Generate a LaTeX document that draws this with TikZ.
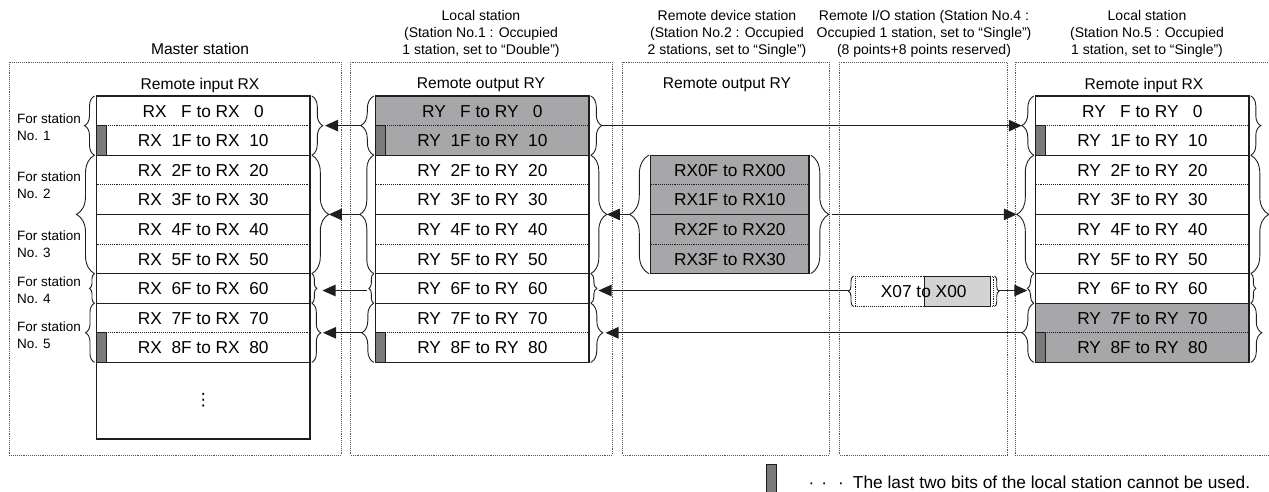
\documentclass[tikz,border=0pt]{standalone}
\usepackage{fontspec}
\setmainfont{Liberation Sans}
\newfontfamily\symfont{DejaVu Sans}
\usetikzlibrary{arrows.meta,decorations.pathreplacing,calc}
\definecolor{ink}{HTML}{1E1E1E}
\definecolor{dotln}{HTML}{555555}
\definecolor{regfill}{HTML}{A7A7AA}
\definecolor{bitfill}{HTML}{7A7A7C}
\definecolor{xfill}{HTML}{D3D3D3}
\newcommand{\regtext}[2]{\ifnum#2=0 #1\ \ \ F to #1\ \ \ 0\else#1\ \ #2F to #1\ \ #20\fi}

\begin{document}
\begin{tikzpicture}[x=1pt,y=-1pt,
    reg/.style={inner sep=0pt,text height=12.4pt,text depth=0pt,font=\fontsize{17.3}{20}\selectfont},
    ttl/.style={align=center,inner sep=0pt,font=\fontsize{14}{17}\selectfont},
    hdr/.style={inner sep=0pt,font=\fontsize{15.6}{17}\selectfont},
    stn/.style={align=left,anchor=west,inner sep=0pt,font=\fontsize{13.5}{17}\selectfont},
    pnl/.style={draw=dotln,line width=0.8pt,dash pattern=on 0.8pt off 1.1pt},
    box/.style={draw=ink,line width=1.3pt},
    sep/.style={draw=ink,line width=0.8pt,dash pattern=on 0.8pt off 1.1pt},
    bit/.style={fill=bitfill,draw=ink,line width=0.8pt},
    brc/.style={decorate,decoration={brace,amplitude=#1},draw=ink,line width=0.9pt},
    arr/.style={draw=ink,line width=1.1pt,-{Triangle[length=13pt,width=11.5pt]}}]
  \useasboundingbox (0,0) rectangle (1269,491);

  % dotted station panels
  \draw[pnl] (9,62) rectangle (341,455);
  \draw[pnl] (350.5,62) rectangle (612,455);
  \draw[pnl] (622.5,62) rectangle (829,455);
  \draw[pnl] (839.5,62) rectangle (1007,455);
  \draw[pnl] (1015,62) rectangle (1285,455);

  % titles
  \node[hdr] (tMaster) at (200,49) {Master station};
  \node[ttl] (tLocA) at (481,33.5) {Local station\\(Station No.1 : Occupied\\1 station, set to “Double")};
  \node[ttl] (tRdev) at (727,33.5) {Remote device station\\(Station No.2 : Occupied\\2 stations, set to “Single")};
  \node[ttl] (tRio) at (924,33.5) {Remote I/O station (Station No.4 :\\Occupied 1 station, set to “Single")\\(8 points+8 points reserved)};
  \node[ttl] (tLocB) at (1147,33.5) {Local station\\(Station No.5 : Occupied\\1 station, set to “Single")};

  \node[hdr] (hM) at (200,85) {Remote input RX};
  \node[hdr] (hA) at (481,85) {Remote output RY};
  \node[hdr] (hR) at (727,85) {Remote output RY};
  \node[hdr] (hB) at (1144,85) {Remote input RX};

  % gray rows
  \fill[regfill] (375.7,96) rectangle (589,155.2);
  \fill[regfill] (650.7,155.2) rectangle (809,273.6);
  \fill[regfill] (1035.7,303.2) rectangle (1249,362.4);

  % row dividers
  \foreach \bx/\ex in {96.5/310,375.7/589,1035.7/1249} {
    \foreach \yy in {125.6,184.8,244,332.8}
      \draw[sep] (\bx,\yy) -- (\ex,\yy);
    \foreach \yy in {155.2,214.4,273.6,303.2}
      \draw[box] (\bx,\yy) -- (\ex,\yy);
  }
  \draw[box] (96.5,362.4) -- (310,362.4);
  \draw[sep] (650.7,184.8) -- (809,184.8);
  \draw[sep] (650.7,244) -- (809,244);
  \draw[box] (650.7,214.4) -- (809,214.4);

  % unusable bits
  \foreach \bx in {96.5,375.7,1035.7} {
    \draw[bit] (\bx,125.6) rectangle ++(9.5,29.6);
    \draw[bit] (\bx,332.8) rectangle ++(9.5,29.6);
  }

  % register boxes
  \draw[box] (96.5,96) rectangle (310,439);
  \draw[box] (375.7,96) rectangle (589,362.4);
  \draw[box] (650.7,155.2) rectangle (809,273.6);
  \draw[box] (1035.7,96) rectangle (1249,362.4);

  \foreach \k in {0,...,8} {
    \node[reg] (m\k) at (203.25,{110.8+29.6*\k}) {\regtext{RX}{\k}};
    \node[reg] (a\k) at (482.35,{110.8+29.6*\k}) {\regtext{RY}{\k}};
    \node[reg] (b\k) at (1142.35,{110.8+29.6*\k}) {\regtext{RY}{\k}};
  }
  \foreach \k in {0,...,3}
    \node[reg] (r\k) at (729.85,{170+29.6*\k}) {RX\k F to RX\k0};
  \node[inner sep=0pt,font=\symfont\fontsize{17}{20}\selectfont] (mDots) at (203.25,400) {⋮};

  % remote I/O points
  \draw[sep] (855,276) rectangle (993,306.5);
  \draw[fill=xfill,draw=ink,line width=1pt] (924.3,276) rectangle (990.7,306.5);
  \node[reg] (xio) at (923.7,291.3) {X07 to X00};

  % station labels
  \node[stn] (sn1) at (17,127.5) {For station\\No. 1};
  \node[stn] (sn2) at (17,185.3) {For station\\No. 2};
  \node[stn] (sn3) at (17,244.5) {For station\\No. 3};
  \node[stn] (sn4) at (17,290) {For station\\No. 4};
  \node[stn] (sn5) at (17,335) {For station\\No. 5};

  % braces
  \draw[brc=10] (94.5,155.2) -- (94.5,96);
  \draw[brc=18] (94.5,273.6) -- (94.5,155.2);
  \draw[brc=5] (94.5,303.2) -- (94.5,273.6);
  \draw[brc=9] (94.5,362.4) -- (94.5,303.2);
  \draw[brc=11] (311.8,96) -- (311.8,155.2);
  \draw[brc=17] (311.8,155.2) -- (311.8,273.6);
  \draw[brc=5] (311.8,273.6) -- (311.8,303.2);
  \draw[brc=9] (311.8,303.2) -- (311.8,362.4);

  \draw[brc=13] (373.8,155.2) -- (373.8,96);
  \draw[brc=14] (373.8,273.6) -- (373.8,155.2);
  \draw[brc=5] (373.8,303.2) -- (373.8,273.6);
  \draw[brc=12] (373.8,362.4) -- (373.8,303.2);
  \draw[brc=11] (590.8,96) -- (590.8,155.2);
  \draw[brc=16] (590.8,155.2) -- (590.8,273.6);
  \draw[brc=6] (590.8,273.6) -- (590.8,303.2);
  \draw[brc=12] (590.8,303.2) -- (590.8,362.4);

  \draw[brc=19] (648.8,273.6) -- (648.8,155.2);
  \draw[brc=18] (810.8,155.2) -- (810.8,273.6);

  \draw[brc=5] (853.5,306.5) -- (853.5,276);
  \draw[brc=4.5] (994.5,276) -- (994.5,306.5);

  \draw[brc=12] (1033.8,155.2) -- (1033.8,96);
  \draw[brc=17] (1033.8,273.6) -- (1033.8,155.2);
  \draw[brc=6.5] (1033.8,303.2) -- (1033.8,273.6);
  \draw[brc=12] (1033.8,362.4) -- (1033.8,303.2);
  \draw[brc=10] (1250.8,96) -- (1250.8,155.2);
  \draw[brc=18] (1250.8,155.2) -- (1250.8,273.6);
  \draw[brc=5] (1250.8,273.6) -- (1250.8,303.2);
  \draw[brc=11] (1250.8,303.2) -- (1250.8,362.4);

  % brace tips
  \coordinate (mR1) at (325,125.6);
  \coordinate (aL1) at (360.5,125.6);
  \coordinate (aR1) at (601.8,125.6);
  \coordinate (bL1) at (1021.8,125.6);
  \coordinate (mR23) at (328.8,214.4);
  \coordinate (aL23) at (360,214.4);
  \coordinate (aR23) at (606.8,214.4);
  \coordinate (rL) at (629.8,214.4);
  \coordinate (rR) at (832,214.4);
  \coordinate (bL23) at (1016.8,214.4);
  \coordinate (mR4) at (322.5,290.5);
  \coordinate (aL4) at (367,290.5);
  \coordinate (aR4) at (598.5,290.5);
  \coordinate (xL) at (848.5,290.5);
  \coordinate (xR) at (998.5,290.5);
  \coordinate (bL4) at (1027.3,290.5);
  \coordinate (mR5) at (323,332.8);
  \coordinate (aL5) at (361.8,332.8);
  \coordinate (aR5) at (605.5,332.8);
  \coordinate (bL5) at (1021.8,332.8);

  % data flow
  \draw[arr] (aL1) -- (mR1);
  \draw[arr] (aR1) -- (bL1);
  \draw[arr] (aL23) -- (mR23);
  \draw[arr] (rL) -- (aR23);
  \draw[arr] (rR) -- (bL23);
  \draw[arr] (aL4) -- (mR4);
  \draw[arr] (xL) -- (aR4);
  \draw[arr] (xR) -- (bL4);
  \draw[arr] (aL5) -- (mR5);
  \draw[arr] (bL5) -- (aR5);

  % legend
  \draw[bit] (766,464) rectangle (776,495);
  \node[anchor=base west,inner sep=0pt,font=\fontsize{17.3}{20}\selectfont] (legTxt) at (808.5,488)
    {·\hspace{7pt}·\hspace{11pt}·\hspace{9pt}The last two bits of the local station cannot be used.};
\end{tikzpicture}
\end{document}
